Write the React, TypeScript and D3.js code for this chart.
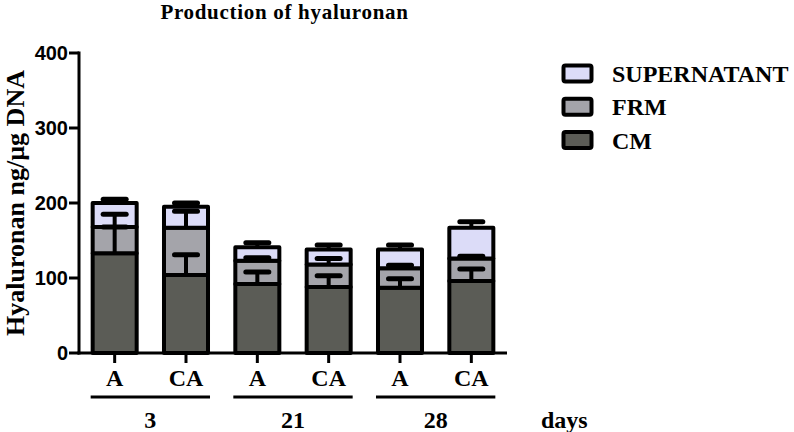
import React from "react";
import * as d3 from "d3";

const categories = ["A", "CA", "A", "CA", "A", "CA"];
const dayGroups = ["3", "21", "28"];
const seriesNames = ["CM", "FRM", "SUPERNATANT"];
const cmValues = [133, 104, 92, 88, 87, 96];
const cmErrors = [35, 27, 16, 15, 12, 16];
const frmValues = [35, 63, 31, 30, 26, 30];
const frmErrors = [17, 22, 4, 8, 4, 3];
const supValues = [32, 28, 18, 20, 25, 41];
const supErrors = [5, 5, 6, 6, 6, 8];
const yTicks = [0, 100, 200, 300, 400];

const colors: Record<string, string> = {
  CM: "#5b5c56",
  FRM: "#a4a4aa",
  SUPERNATANT: "#dcdcf8",
};

const W = 794;
const H = 432;
const axisX = 79;
const axisEnd = 507;
const serif = "'Liberation Serif', 'Times New Roman', serif";
const sans = "'Liberation Sans', Arial, sans-serif";

export default function App() {
  const y = d3.scaleLinear().domain([0, 400]).range([353, 53]);
  const idx = categories.map((_, i) => String(i));
  const x = d3.scaleBand<string>().domain(idx).range([axisX, axisEnd]).paddingInner(0.383).paddingOuter(0.1915);

  const rows = categories.map((_, i) => ({
    key: String(i),
    CM: cmValues[i],
    FRM: frmValues[i],
    SUPERNATANT: supValues[i],
  }));
  const errs: Record<string, number[]> = { CM: cmErrors, FRM: frmErrors, SUPERNATANT: supErrors };
  const stacked = d3.stack<any>().keys(seriesNames)(rows);

  const bw = x.bandwidth();
  const capW = 28;

  return (
    <svg width={W} height={H} style={{ position: "absolute", left: 0, top: 0, background: "#fff" }}>
      <text x={284.5} y={19} textAnchor="middle" fontFamily={serif} fontWeight="bold" fontSize={21} letterSpacing={0.7}>
        Production of hyaluronan
      </text>

      {/* y axis */}
      <line x1={axisX} x2={axisX} y1={y(400) - 1.5} y2={y(0) + 1.5} stroke="#000" strokeWidth={3} />
      {yTicks.map((t) => (
        <g key={t}>
          <line x1={axisX - 10} x2={axisX} y1={y(t)} y2={y(t)} stroke="#000" strokeWidth={3} />
          <text x={axisX - 11} y={y(t)} dy="0.36em" textAnchor="end" fontFamily={sans} fontWeight="bold" fontSize={20}>
            {t}
          </text>
        </g>
      ))}
      <text
        transform={`translate(24, 203) rotate(-90)`}
        textAnchor="middle"
        fontFamily={serif}
        fontWeight="bold"
        fontSize={26}
      >
        Hyaluronan ng/µg DNA
      </text>

      {/* bars */}
      {stacked.map((layer) =>
        layer.map((d, i) => (
          <rect
            key={layer.key + i}
            x={x(String(i))!}
            y={y(d[1])}
            width={bw}
            height={y(d[0]) - y(d[1])}
            fill={colors[layer.key]}
            stroke="#000"
            strokeWidth={4}
            strokeLinejoin="round"
          />
        ))
      )}

      {/* error bars */}
      {stacked.map((layer) =>
        layer.map((d, i) => {
          const cx = x(String(i))! + bw / 2;
          const top = d[1];
          const e = errs[layer.key][i];
          return (
            <g key={"e" + layer.key + i}>
              <line x1={cx} x2={cx} y1={y(top)} y2={y(top + e)} stroke="#000" strokeWidth={4} />
              <line
                x1={cx - capW / 2 + 2.5}
                x2={cx + capW / 2 - 2.5}
                y1={y(top + e)}
                y2={y(top + e)}
                stroke="#000"
                strokeWidth={5}
                strokeLinecap="round"
              />
            </g>
          );
        })
      )}

      {/* x axis */}
      <line x1={axisX - 1.5} x2={axisEnd} y1={y(0)} y2={y(0)} stroke="#000" strokeWidth={3} />
      {categories.map((c, i) => {
        const cx = x(String(i))! + bw / 2;
        return (
          <g key={"x" + i}>
            <line x1={cx} x2={cx} y1={y(0)} y2={y(0) + 10} stroke="#000" strokeWidth={3} />
            <text x={cx} y={386} textAnchor="middle" fontFamily={serif} fontWeight="bold" fontSize={24}>
              {c}
            </text>
          </g>
        );
      })}
      {dayGroups.map((g, gi) => {
        const x0 = x(String(gi * 2))! - 2;
        const x1 = x(String(gi * 2 + 1))! + bw + 2;
        return (
          <g key={"g" + g}>
            <line x1={x0} x2={x1} y1={397} y2={397} stroke="#000" strokeWidth={3} />
            <text x={(x0 + x1) / 2} y={428} textAnchor="middle" fontFamily={serif} fontWeight="bold" fontSize={24}>
              {g}
            </text>
          </g>
        );
      })}
      <text x={541} y={428} fontFamily={serif} fontWeight="bold" fontSize={24}>
        days
      </text>

      {/* legend */}
      {[...seriesNames].reverse().map((s, i) => (
        <g key={"l" + s}>
          <rect
            x={563.5}
            y={65.5 + i * 33.3}
            width={28}
            height={16}
            rx={2}
            fill={colors[s]}
            stroke="#000"
            strokeWidth={4}
          />
          <text x={612} y={82 + i * 33.3} fontFamily={serif} fontWeight="bold" fontSize={24}>
            {s}
          </text>
        </g>
      ))}
    </svg>
  );
}
